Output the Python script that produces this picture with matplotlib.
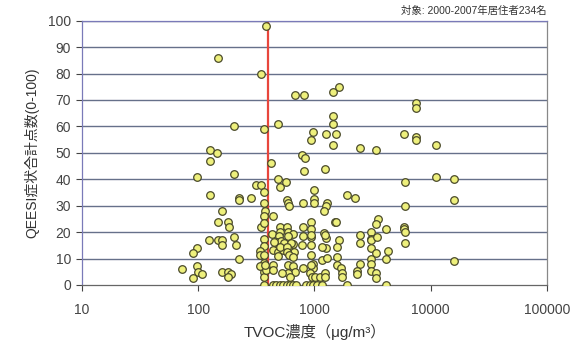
import numpy as np
import matplotlib
matplotlib.use("Agg")
import matplotlib.pyplot as plt
from matplotlib.ticker import FixedLocator, NullLocator

plt.rcParams['font.family'] = ['Liberation Sans', 'Noto Sans CJK JP', 'DejaVu Sans']

# TVOC concentration (ug/m3) and QEESI score
tvoc = [380, 147, 345, 675, 810, 1450, 1640, 7450, 7450,
        203, 367, 490, 1450, 1450, 965, 930, 1250, 1530, 5930, 7450, 7450,
        1450, 2480, 3390, 11100, 126, 146, 785, 830,
        126, 422, 810, 1240, 97, 203, 11100, 16000, 6000,
        487, 504, 570, 312, 344, 1000, 367, 126, 1890, 2230,
        222, 222, 282, 1000, 1000, 575, 590, 600, 790, 1270, 1250, 1215, 367, 16000, 6000,
        159, 375, 367, 436, 147, 181, 184, 344, 367, 925, 1500, 1530, 3550, 3400, 4100, 5900, 5900, 6000,
        505, 575, 504, 593, 790, 925, 925, 1214, 1248, 428, 658, 933, 1230, 495, 590, 790,
        124, 147, 159, 203, 367, 1640, 2480, 2480, 3050, 3050, 3050, 3450, 6000,
        159, 211, 97, 90, 650, 472, 511, 550, 445, 632, 785, 925, 1550, 3050, 367,
        442, 487, 538, 600, 670, 504, 575, 575, 340, 1248, 1170, 4320, 3400,
        225, 340, 367, 487, 601, 658, 925, 1153, 1274, 1550, 3050, 4100, 16000,
        73, 97, 99, 108, 90, 159, 181, 190, 181, 367, 367, 367, 367, 340, 380,
        375, 442, 436, 593, 658, 680, 593, 615, 523, 800, 979, 979, 913, 950, 1013, 1120, 1230, 1230, 925,
        1550, 2480, 3050, 1700, 1720, 1720, 2340, 2340, 3050, 3350, 3400,
        367, 441, 471, 504, 539, 575, 614, 656, 691, 850, 920, 979, 1050, 1150, 1918, 4130]

score = [98, 86, 80, 72, 72, 73, 75, 69, 67,
         60, 59, 61, 64, 61, 58, 55, 57, 57, 57, 56, 55,
         53, 52, 51, 53, 51, 50, 49, 48,
         47, 46, 43, 44, 41, 42, 41, 40, 39,
         40, 37, 39, 38, 38, 36, 35, 34, 34, 33,
         33, 32, 33, 32.5, 31, 32, 31, 30, 31, 31, 30, 28, 31, 32, 30,
         28, 28, 26, 26, 24, 24, 22, 22, 23.5, 24, 24, 24, 25, 23, 21, 22, 21, 20,
         22, 22, 20, 20, 22, 21, 18, 19.6, 17.7, 19.3, 19.3, 19, 19, 18.5, 18.5, 18.5,
         17, 17, 17, 18, 17.4, 17, 19, 16, 20, 17.5, 17, 18, 16,
         15, 15, 14, 12, 15.5, 16.4, 16.8, 15.8, 16.4, 15.8, 15, 15, 14.5, 14, 14.8,
         13.2, 12.6, 13.2, 13.2, 12.6, 14.5, 14.5, 12.6, 13, 14, 14.5, 13, 12,
         10, 11.4, 11.4, 11, 11.4, 10.7, 11.4, 9.5, 10.1, 10.5, 10, 10, 9,
         6, 7, 5, 4, 2.5, 5, 5, 4.2, 3, 8.2, 6.5, 4.8, 3, 7.3, 5.7,
         7.6, 7.6, 5.7, 7.6, 7.2, 5, 4.4, 3.1, 4.4, 6.3, 7.9, 6.3, 4.4, 3.1, 3.1, 3.1, 4.4, 3.1, 7.6,
         7.6, 8, 8, 6.4, 4.7, 3.1, 5.2, 4.2, 5.2, 4.4, 2.6,
         0, 0, 0, 0, 0, 0, 0, 0, 0, 0, 0, 0, 0, 0, 0, 0]

guideline = 400  # TVOC target value
x_ticks = [10, 100, 1000, 10000, 100000]
x_tick_labels = ['10', '100', '1000', '10000', '100000']
y_ticks = list(range(0, 101, 10))

fig = plt.figure(figsize=(5.8, 3.47), dpi=100)
ax = fig.add_axes([0.1414, 0.1787, 0.8016, 0.7616])

grid_col = '#66708a'
for yv in y_ticks[1:]:
    ax.axhline(yv, color=grid_col, lw=1.0, zorder=1)

ax.axvline(guideline, color='#e8463c', lw=1.6, zorder=2)

ax.scatter(tvoc, score, s=30, facecolor='#eef07c', edgecolor='#4a4a2a',
           linewidths=0.9, zorder=3)

ax.set_xscale('log')
ax.set_xlim(10, 100000)
ax.set_ylim(0, 100)
ax.xaxis.set_major_locator(FixedLocator(x_ticks))
ax.xaxis.set_minor_locator(NullLocator())
ax.set_xticklabels(x_tick_labels)
ax.set_yticks(y_ticks)

ax.tick_params(axis='both', labelsize=10, colors='#444444', length=4,
               width=0.8, direction='out')
ax.tick_params(axis='x', pad=9)
ax.tick_params(axis='y', pad=4)

for side in ['left', 'top']:
    ax.spines[side].set_color('#7a7ab8')
ax.spines['right'].set_color('#888888')
ax.spines['bottom'].set_color('#666666')
for sp in ax.spines.values():
    sp.set_linewidth(0.9)

ax.set_xlabel('TVOC濃度（μg/m³）', fontsize=11, color='#333333', labelpad=5)
ax.set_ylabel('QEESI症状合計点数(0-100)', fontsize=10, color='#333333', labelpad=6)

fig.text(0.943, 0.955, '対象: 2000-2007年居住者234名', ha='right', va='bottom',
         fontsize=7.5, color='#333333')

fig.savefig('out.png', dpi=100)
